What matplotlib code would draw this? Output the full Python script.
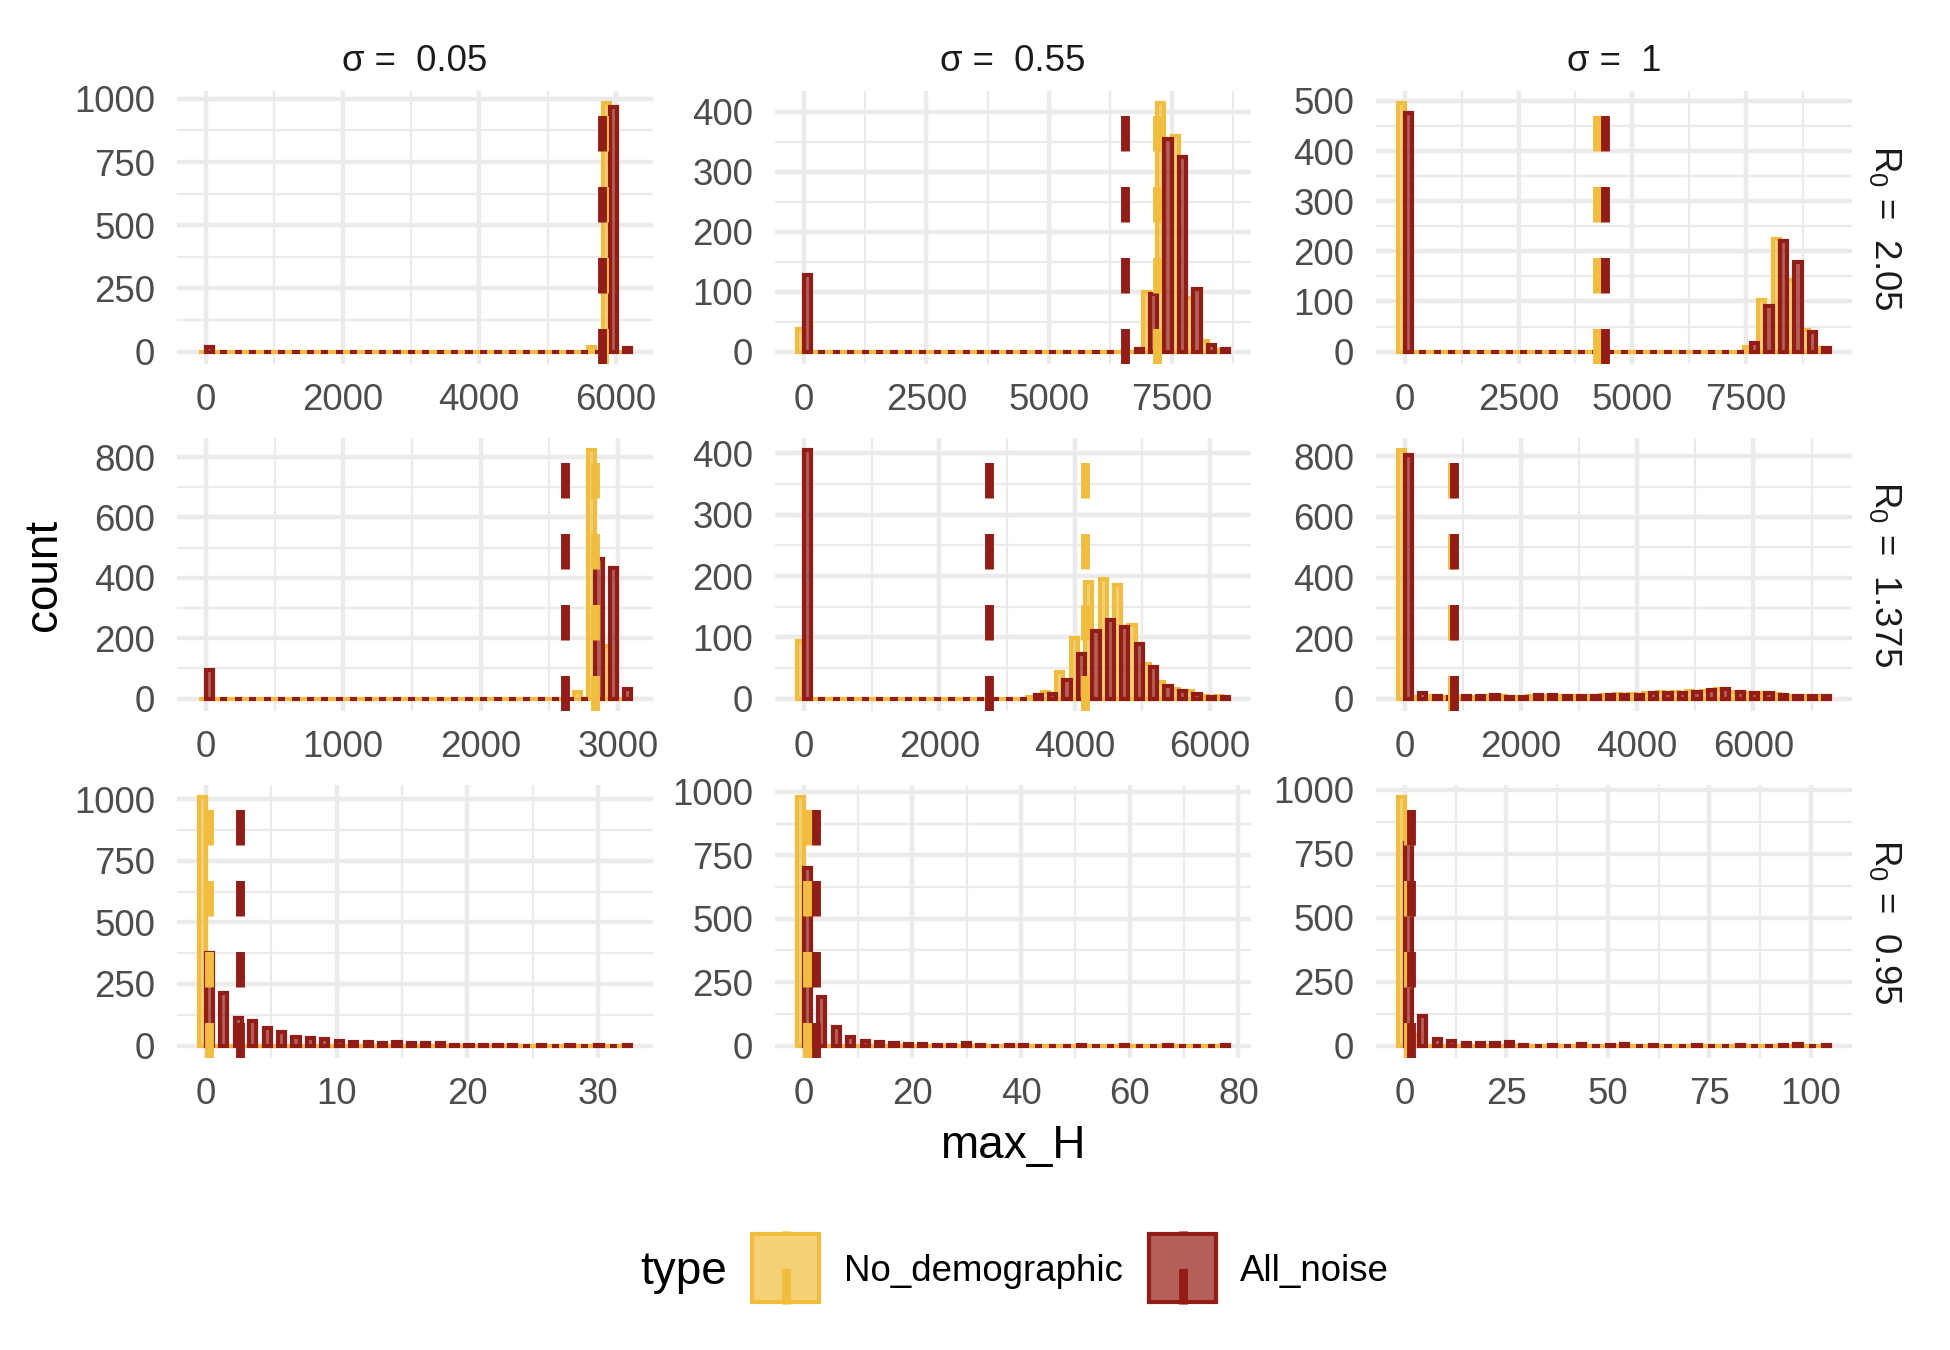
import matplotlib
matplotlib.use('Agg')
import matplotlib.pyplot as plt
from matplotlib.patches import Rectangle
from matplotlib.colors import to_rgba

plt.rcParams['font.family'] = ['Liberation Sans', 'DejaVu Sans']
plt.rcParams['mathtext.fontset'] = 'custom'
plt.rcParams['mathtext.rm'] = 'Liberation Sans'
plt.rcParams['mathtext.it'] = 'Liberation Sans:italic'

# facet labels
sigma_labels = ['0.05', '0.55', '1']
r0_labels = ['2.05', '1.375', '0.95']
type_labels = ['No_demographic', 'All_noise']

# largest max_H per panel (rows = R0, cols = sigma); 30 bins from 0 to this
x_max = [[6120, 8530, 9200],
         [3045, 6180, 7200],
         [32, 77, 103]]

# histogram counts, 30 bins per panel
nodemo_r205 = [
    [0, 0, 0, 0, 0, 0, 0, 0, 0, 0, 0, 0, 0, 0, 0, 0, 0, 0, 0, 0, 0, 0, 0, 0, 0, 0, 0, 18, 982, 0],
    [38, 0, 0, 0, 0, 0, 0, 0, 0, 0, 0, 0, 0, 0, 0, 0, 0, 0, 0, 0, 0, 0, 0, 0, 100, 414, 359, 89, 17, 3],
    [495, 0, 0, 0, 0, 0, 0, 0, 0, 0, 0, 0, 0, 0, 0, 0, 0, 0, 0, 0, 0, 0, 0, 0, 10, 103, 225, 143, 43, 8],
]
allnoise_r205 = [
    [20, 0, 0, 0, 0, 0, 0, 0, 0, 0, 0, 0, 0, 0, 0, 0, 0, 0, 0, 0, 0, 0, 0, 0, 0, 0, 0, 0, 966, 14],
    [128, 0, 0, 0, 0, 0, 0, 0, 0, 0, 0, 0, 0, 0, 0, 0, 0, 0, 0, 0, 0, 0, 0, 5, 96, 354, 324, 104, 11, 5],
    [475, 0, 0, 0, 0, 0, 0, 0, 0, 0, 0, 0, 0, 0, 0, 0, 0, 0, 0, 0, 0, 0, 0, 0, 18, 90, 220, 179, 39, 8],
]
nodemo_r1375 = [
    [0, 0, 0, 0, 0, 0, 0, 0, 0, 0, 0, 0, 0, 0, 0, 0, 0, 0, 0, 0, 0, 0, 0, 0, 0, 0, 22, 822, 174, 0],
    [94, 0, 0, 0, 0, 0, 0, 0, 0, 0, 0, 0, 0, 0, 0, 0, 3, 11, 44, 99, 190, 195, 186, 120, 56, 27, 15, 12, 5, 5],
    [820, 5, 10, 6, 6, 6, 8, 8, 4, 8, 8, 8, 8, 9, 12, 14, 16, 20, 22, 22, 26, 25, 33, 22, 18, 17, 15, 10, 8, 7],
]
allnoise_r1375 = [
    [96, 0, 0, 0, 0, 0, 0, 0, 0, 0, 0, 0, 0, 0, 0, 0, 0, 0, 0, 0, 0, 0, 0, 0, 0, 0, 0, 461, 431, 33],
    [405, 0, 0, 0, 0, 0, 0, 0, 0, 0, 0, 0, 0, 0, 0, 0, 6, 8, 30, 73, 111, 128, 117, 89, 52, 20, 12, 7, 3, 3],
    [805, 20, 9, 5, 9, 8, 12, 5, 6, 11, 11, 9, 9, 9, 13, 12, 13, 20, 20, 19, 22, 28, 31, 22, 18, 17, 13, 9, 8, 8],
]
nodemo_r095 = [
    [1007, 0, 0, 0, 0, 0, 0, 0, 0, 0, 0, 0, 0, 0, 0, 0, 0, 0, 0, 0, 0, 0, 0, 0, 0, 0, 0, 0, 0, 0],
    [978, 5, 0, 0, 0, 0, 0, 0, 0, 0, 0, 0, 0, 0, 0, 0, 0, 0, 0, 0, 0, 0, 0, 0, 0, 0, 0, 0, 0, 0],
    [970, 42, 0, 0, 0, 0, 0, 0, 0, 0, 0, 0, 0, 0, 0, 0, 0, 0, 0, 0, 0, 0, 0, 0, 0, 0, 0, 0, 0, 0],
]
allnoise_r095 = [
    [377, 212, 113, 101, 70, 54, 35, 30, 26, 20, 16, 15, 12, 14, 12, 12, 10, 4, 4, 3, 3, 3, 0, 2, 0, 2, 0, 1, 0, 2],
    [698, 193, 72, 33, 18, 16, 10, 8, 5, 3, 3, 10, 3, 0, 3, 4, 0, 0, 0, 2, 0, 0, 3, 0, 0, 2, 0, 0, 0, 3],
    [790, 116, 25, 18, 10, 10, 9, 13, 3, 0, 3, 0, 5, 0, 2, 5, 0, 2, 0, 0, 2, 0, 0, 2, 0, 0, 2, 5, 0, 3],
]
counts = [[nodemo_r205, allnoise_r205],
          [nodemo_r1375, allnoise_r1375],
          [nodemo_r095, allnoise_r095]]

# mean max_H per type (dashed lines)
mean_nodemo = [[5830, 7200, 4216], [2835, 4154, 820], [0.25, 0.56, 0.75]]
mean_allnoise = [[5797, 6550, 4392], [2613, 2735, 840], [2.6, 2.17, 1.6]]

x_ticks = [[[0, 2000, 4000, 6000], [0, 2500, 5000, 7500], [0, 2500, 5000, 7500]],
           [[0, 1000, 2000, 3000], [0, 2000, 4000, 6000], [0, 2000, 4000, 6000]],
           [[0, 10, 20, 30], [0, 20, 40, 60, 80], [0, 25, 50, 75, 100]]]
y_ticks = [[[0, 250, 500, 750, 1000], [0, 100, 200, 300, 400], [0, 100, 200, 300, 400, 500]],
           [[0, 200, 400, 600, 800], [0, 100, 200, 300, 400], [0, 200, 400, 600, 800]],
           [[0, 250, 500, 750, 1000], [0, 250, 500, 750, 1000], [0, 250, 500, 750, 1000]]]

colors = ['#F0BE3C', '#931C16']
fill_alpha = 0.7
grid_col = '#EBEBEB'

W, H = 1950, 1350
cols = [(177, 653), (775, 1251), (1376, 1852)]
rows = [(91, 364), (438, 711), (785, 1058)]

fig = plt.figure(figsize=(W / 300, H / 300), dpi=300)


def minor_breaks(major, lo, hi):
    step = major[1] - major[0]
    ext = [major[0] - step] + list(major) + [major[-1] + step]
    mids = [(a + b) / 2 for a, b in zip(ext[:-1], ext[1:])]
    return [m for m in mids if lo <= m <= hi]


for i in range(3):
    for j in range(3):
        y0, y1 = rows[i]
        x0, x1 = cols[j]
        ax = fig.add_axes([x0 / W, 1 - y1 / H, (x1 - x0) / W, (y1 - y0) / H])
        w = x_max[i][j] / 29
        centers = [k * w for k in range(30)]
        nd, an = counts[i][0][j], counts[i][1][j]

        # dodged histogram bars: No_demographic left half, All_noise right half
        for t, (cnt, off) in enumerate([(nd, -w / 4), (an, w / 4)]):
            ax.bar([c + off for c in centers], cnt, width=w / 2,
                   facecolor=to_rgba(colors[t], fill_alpha),
                   edgecolor=colors[t], linewidth=1.0, zorder=2)

        for t, m in enumerate([mean_nodemo[i][j], mean_allnoise[i][j]]):
            ax.plot([m, m], [0, 1], transform=ax.get_xaxis_transform(),
                    color=colors[t], lw=2.13, linestyle=(0, (4, 4)),
                    dash_capstyle='butt', zorder=3)

        lo_x, hi_x = -w / 2, x_max[i][j] + w / 2
        rx = hi_x - lo_x
        xl = (lo_x - 0.05 * rx, hi_x + 0.05 * rx)
        ymax = max(max(nd), max(an))
        yl = (-0.05 * ymax, 1.05 * ymax)
        ax.set_xlim(xl)
        ax.set_ylim(yl)

        ax.set_xticks(x_ticks[i][j])
        ax.set_xticks(minor_breaks(x_ticks[i][j], *xl), minor=True)
        ax.set_yticks(y_ticks[i][j])
        ax.set_yticks(minor_breaks(y_ticks[i][j], *yl), minor=True)
        ax.set_xticklabels([str(v) for v in x_ticks[i][j]])
        ax.set_yticklabels([str(v) for v in y_ticks[i][j]])
        ax.tick_params(which='both', length=0, pad=5.2, labelsize=8.8,
                       labelcolor='#4D4D4D')
        ax.tick_params(axis='x', pad=4.6)
        ax.grid(which='major', color=grid_col, lw=1.07)
        ax.grid(which='minor', color=grid_col, lw=0.53)
        ax.set_axisbelow(True)
        for s in ax.spines.values():
            s.set_visible(False)
        ax.set_facecolor('none')

# overlay for strips, titles and legend, in pixel units
ov = fig.add_axes([0, 0, 1, 1], zorder=-1)
ov.set_xlim(0, W)
ov.set_ylim(H, 0)
ov.axis('off')

for j in range(3):
    cx = (cols[j][0] + cols[j][1]) / 2
    ov.text(cx, 71, '\u03c3 =  ' + sigma_labels[j], ha='center', va='baseline',
            fontsize=8.8, color='#1A1A1A')
for i in range(3):
    cy = (rows[i][0] + rows[i][1]) / 2
    ov.text(1885, cy, r'R$_{0}$ =  ' + r0_labels[i], ha='center', va='center',
            rotation=-90, fontsize=8.8, color='#1A1A1A')

ov.text(44, (rows[0][0] + rows[2][1]) / 2, 'count', rotation=90, ha='center',
        va='center', fontsize=11, color='black')
ov.text((cols[1][0] + cols[1][1]) / 2, 1158, 'max_H', ha='center',
        va='baseline', fontsize=11, color='black')

# legend
ov.text(640, 1284, 'type', ha='left', va='baseline', fontsize=11)
key_x = [752, 1149]
lab_x = [844, 1240]
for t in range(2):
    kx = key_x[t]
    ov.add_patch(Rectangle((kx, 1234), 67, 68,
                           facecolor=to_rgba(colors[t], fill_alpha),
                           edgecolor=colors[t], lw=1.0))
    ov.plot([kx + 33.5, kx + 33.5], [1304, 1231], color=colors[t], lw=2.13,
            linestyle=(0, (4, 4)), dash_capstyle='butt')
    ov.text(lab_x[t], 1281, type_labels[t], ha='left', va='baseline',
            fontsize=8.8, color='black')

fig.savefig('out.png', dpi=300, facecolor='white')
